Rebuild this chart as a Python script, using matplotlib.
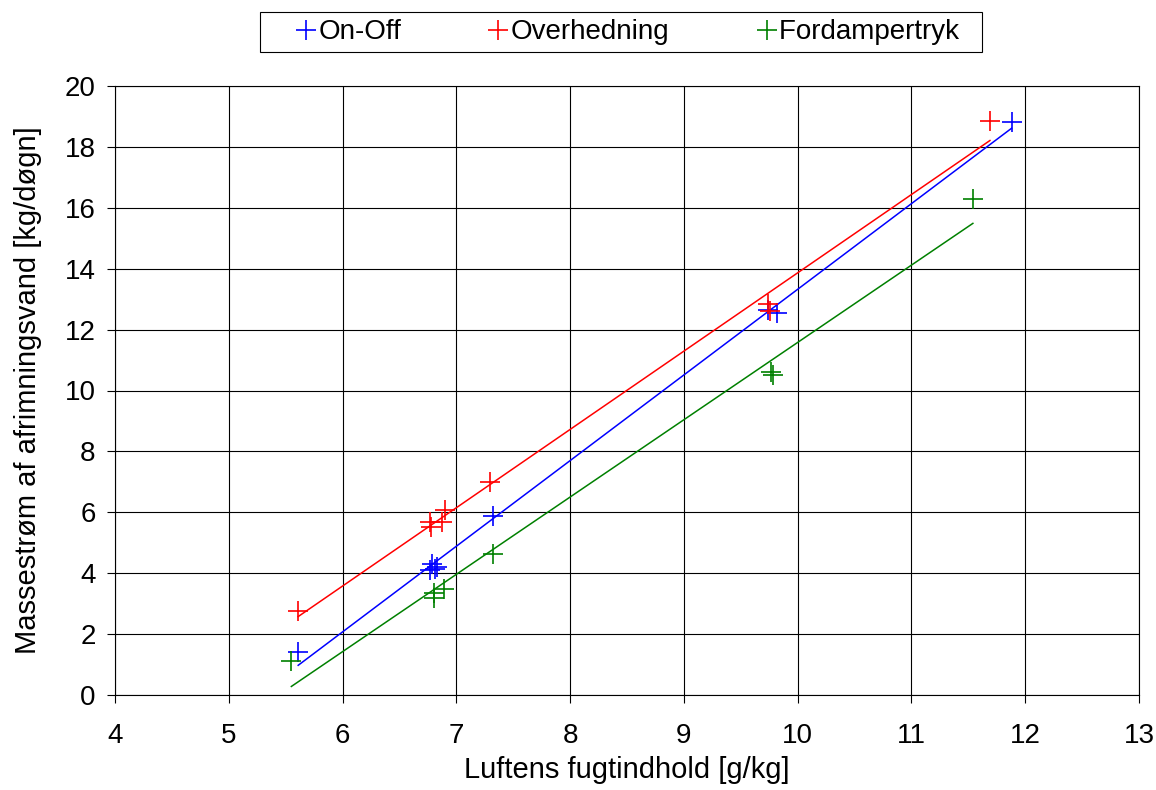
import numpy as np
import matplotlib.pyplot as plt

plt.rcParams['font.family'] = ['Liberation Sans', 'DejaVu Sans']

# data
onoff_x = [5.61, 6.77, 6.79, 6.81, 6.83, 7.32, 9.74, 9.82, 11.88]
onoff_y = [1.41, 4.10, 4.30, 4.15, 4.20, 5.88, 12.65, 12.55, 18.83]

overh_x = [5.61, 6.77, 6.78, 6.87, 6.90, 7.30, 9.74, 9.76, 11.69]
overh_y = [2.77, 5.68, 5.52, 5.68, 6.07, 6.98, 12.85, 12.60, 18.85]

fordamp_x = [5.55, 6.80, 6.80, 6.89, 7.32, 9.77, 9.78, 11.54]
fordamp_y = [1.12, 3.34, 3.18, 3.47, 4.62, 10.62, 10.52, 16.28]

series = [
    ("On-Off", onoff_x, onoff_y, "#0000ff"),
    ("Overhedning", overh_x, overh_y, "#ff0000"),
    ("Fordampertryk  ", fordamp_x, fordamp_y, "#008000"),
]

fig = plt.figure(figsize=(11.56, 7.90), dpi=100)
ax = fig.add_axes([115 / 1156, 1 - 695 / 790, (1139 - 115) / 1156, (695 - 86) / 790])

for name, xs, ys, col in series:
    xs = np.array(xs)
    ys = np.array(ys)
    ax.plot(xs, ys, linestyle="none", marker="+", markersize=14,
            markeredgewidth=1.2, color=col, label=name)
    # linear trend line over the data range
    k, m = np.polyfit(xs, ys, 1)
    xl = np.array([xs.min(), xs.max()])
    ax.plot(xl, k * xl + m, color=col, linewidth=1.1)

ax.set_xlim(4, 13)
ax.set_ylim(0, 20)
ax.set_xticks(np.arange(4, 14, 1))
ax.set_yticks(np.arange(0, 21, 2))
ax.grid(True, color="black", linewidth=0.8)
ax.set_axisbelow(True)
for s in ax.spines.values():
    s.set_color("black")
    s.set_linewidth(0.8)
ax.tick_params(labelsize=20, length=6, direction="out", color="black", pad=8)
ax.tick_params(axis="x", pad=14)

ax.set_xlabel("Luftens fugtindhold [g/kg]", fontsize=21, labelpad=5)
ax.set_ylabel("Massestrøm af afrimningsvand [kg/døgn]", fontsize=21, labelpad=16)

leg = ax.legend(loc="center", bbox_to_anchor=(0.494, 1.088), ncol=3, fontsize=20,
                frameon=True, fancybox=False, edgecolor="black", framealpha=1,
                columnspacing=2.1, handlelength=2.8, handletextpad=-0.95,
                borderpad=0.25, borderaxespad=0)
leg.get_frame().set_linewidth(0.8)

fig.savefig("out.png", dpi=100)
